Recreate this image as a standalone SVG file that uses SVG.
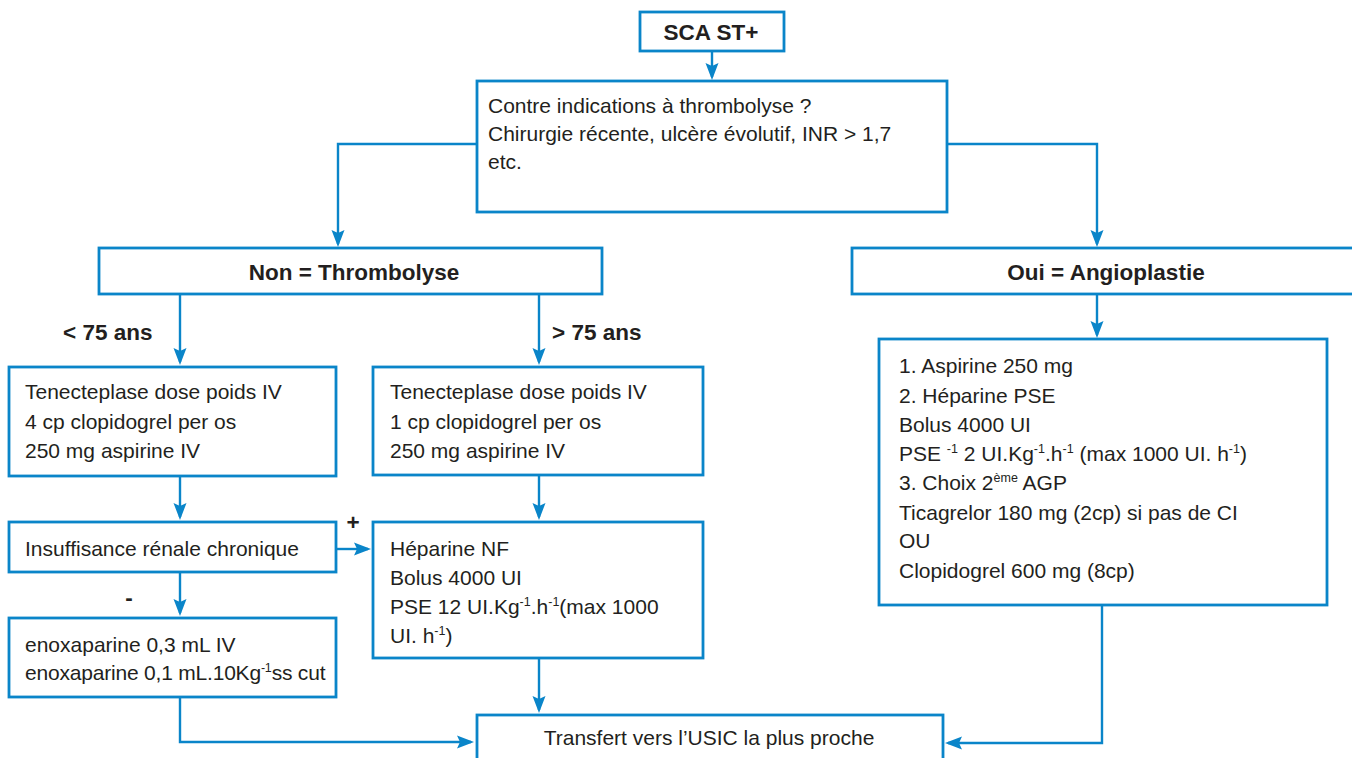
<svg xmlns="http://www.w3.org/2000/svg" width="1352" height="758" viewBox="0 0 1352 758">
<style>
.box{fill:#fff;stroke:#0a85c9;stroke-width:2.8}
.t{font-family:"Liberation Sans",Arial,sans-serif;font-size:21px;fill:#231f20}
.b{font-family:"Liberation Sans",Arial,sans-serif;font-size:22.5px;font-weight:bold;fill:#231f20}
.c{text-anchor:middle}
.sup{font-size:12.5px}
.con{fill:none;stroke:#0a85c9;stroke-width:2.4;marker-end:url(#ah)}
</style>
<defs>
<marker id="ah" markerUnits="userSpaceOnUse" markerWidth="22" markerHeight="18" viewBox="-15 -9 22 18" refX="0" refY="0" orient="auto">
<path d="M3,0 L-14,-6.5 L-11,0 L-14,6.5 Z" fill="#0a85c9"/>
</marker>
</defs>
<rect width="1352" height="758" fill="#fff"/>
<g id="connectors">
<path class="con" d="M712,51 V77"/>
<path class="con" d="M477,144 H338 V244"/>
<path class="con" d="M947,144 H1097 V244"/>
<path class="con" d="M180,294 V362"/>
<path class="con" d="M539,294 V362"/>
<path class="con" d="M1097,294 V335"/>
<path class="con" d="M180,476 V517"/>
<path class="con" d="M539,475 V517"/>
<path class="con" d="M336,549 H368"/>
<path class="con" d="M180,572 V613"/>
<path class="con" d="M180,697 V742 H471"/>
<path class="con" d="M539,658 V710"/>
<path class="con" d="M1102,605 V743 H948"/>
</g>
<g id="n-sca">
<rect class="box" x="640" y="12" width="144" height="39"/>
<text class="b c" x="711" y="40">SCA ST+</text>
</g>
<g id="n-contre">
<rect class="box" x="477" y="81" width="470" height="131"/>
<text class="t" x="488" y="113">Contre indications à thrombolyse ?</text>
<text class="t" x="488" y="141">Chirurgie récente, ulcère évolutif, INR &gt; 1,7</text>
<text class="t" x="488" y="169">etc.</text>
</g>
<g id="n-non">
<rect class="box" x="99" y="248" width="503" height="46"/>
<text class="b c" x="354" y="280">Non = Thrombolyse</text>
</g>
<g id="n-oui">
<rect class="box" x="852" y="248" width="510" height="46"/>
<text class="b c" x="1106" y="280">Oui = Angioplastie</text>
</g>
<g id="lbl-age">
<text class="b" x="63" y="340">&lt; 75 ans</text>
<text class="b" x="552" y="340">&gt; 75 ans</text>
<text class="b c" x="353" y="530">+</text>
<text class="b c" x="129" y="605">-</text>
</g>
<g id="n-tnk1">
<rect class="box" x="9" y="367" width="327" height="109"/>
<text class="t" x="25" y="399">Tenecteplase dose poids IV</text>
<text class="t" x="25" y="429">4 cp clopidogrel per os</text>
<text class="t" x="25" y="458">250 mg aspirine IV</text>
</g>
<g id="n-tnk2">
<rect class="box" x="373" y="367" width="330" height="108"/>
<text class="t" x="390" y="399">Tenecteplase dose poids IV</text>
<text class="t" x="390" y="429">1 cp clopidogrel per os</text>
<text class="t" x="390" y="458">250 mg aspirine IV</text>
</g>
<g id="n-irc">
<rect class="box" x="9" y="522" width="327" height="50"/>
<text class="t" x="25" y="556">Insuffisance rénale chronique</text>
</g>
<g id="n-hep">
<rect class="box" x="373" y="522" width="330" height="136"/>
<text class="t" x="390" y="556">Héparine NF</text>
<text class="t" x="390" y="585">Bolus 4000 UI</text>
<text class="t" x="390" y="614">PSE 12 UI.Kg<tspan class="sup" dy="-8">-1</tspan><tspan dy="8">.h</tspan><tspan class="sup" dy="-8">-1</tspan><tspan dy="8">(max 1000</tspan></text>
<text class="t" x="390" y="643">UI. h<tspan class="sup" dy="-8">-1</tspan><tspan dy="8">)</tspan></text>
</g>
<g id="n-enox">
<rect class="box" x="9" y="618" width="327" height="79"/>
<text class="t" x="25" y="652">enoxaparine 0,3 mL IV</text>
<text class="t" x="25" y="680" letter-spacing="-0.2">enoxaparine 0,1 mL.10Kg<tspan class="sup" dy="-8">-1</tspan><tspan dy="8">ss cut</tspan></text>
</g>
<g id="n-angio">
<rect class="box" x="879" y="339" width="448" height="266"/>
<text class="t" x="899" y="373">1. Aspirine 250 mg</text>
<text class="t" x="899" y="403">2. Héparine PSE</text>
<text class="t" x="899" y="432">Bolus 4000 UI</text>
<text class="t" x="899" y="461">PSE <tspan class="sup" dy="-8">-1</tspan><tspan dy="8"> 2 UI.Kg</tspan><tspan class="sup" dy="-8">-1</tspan><tspan dy="8">.h</tspan><tspan class="sup" dy="-8">-1</tspan><tspan dy="8"> (max 1000 UI. h</tspan><tspan class="sup" dy="-8">-1</tspan><tspan dy="8">)</tspan></text>
<text class="t" x="899" y="490">3. Choix 2<tspan class="sup" dy="-8">ème</tspan><tspan dy="8"> AGP</tspan></text>
<text class="t" x="899" y="520">Ticagrelor 180 mg (2cp) si pas de CI</text>
<text class="t" x="899" y="548">OU</text>
<text class="t" x="899" y="578">Clopidogrel 600 mg (8cp)</text>
</g>
<g id="n-usic">
<rect class="box" x="477" y="715" width="466" height="60"/>
<text class="t c" x="709" y="745">Transfert vers l’USIC la plus proche</text>
</g>
</svg>
